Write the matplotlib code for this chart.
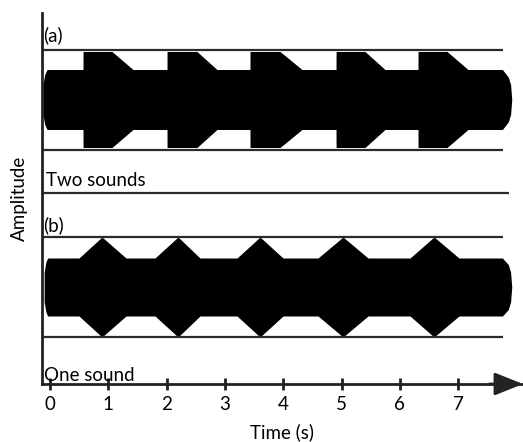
import matplotlib
matplotlib.use("Agg")
import matplotlib.pyplot as plt

plt.rcParams['font.family'] = ['Lato', 'DejaVu Sans']

# envelope break points: (time in s, relative amplitude)
# (a) two sounds: square bursts with a sloping tail on top of a steady tone
a_time = [-0.12, -0.09, -0.05,
          0.566, 0.567, 1.063, 1.424,
          2.007, 2.008, 2.521, 2.864,
          3.430, 3.431, 3.945, 4.322,
          4.906, 4.907, 5.403, 5.746,
          6.312, 6.313, 6.810, 7.170,
          7.760, 7.860, 7.900, 7.920]
a_amp = [0.30, 0.50, 0.60,
         0.60, 0.96, 0.96, 0.60,
         0.60, 0.96, 0.96, 0.60,
         0.60, 0.96, 0.96, 0.60,
         0.60, 0.96, 0.96, 0.60,
         0.60, 0.96, 0.96, 0.60,
         0.60, 0.45, 0.30, 0.00]

# (b) one sound: smooth diamond-shaped swells
b_time = [-0.10, -0.07, -0.04,
          0.497, 0.892, 1.304,
          1.801, 2.196, 2.573,
          3.208, 3.602, 3.997,
          4.597, 5.026, 5.455,
          6.175, 6.587, 7.015,
          7.760, 7.860, 7.900, 7.920]
b_amp = [0.30, 0.50, 0.58,
         0.58, 1.00, 0.58,
         0.58, 1.00, 0.58,
         0.58, 1.00, 0.58,
         0.58, 1.00, 0.58,
         0.58, 1.00, 0.58,
         0.58, 0.45, 0.30, 0.00]

ticks = [0, 1, 2, 3, 4, 5, 6, 7]
panel_labels = ['(a)', '(b)']
captions = ['Two sounds', 'One sound']

# layout (vertical units ~ pixels above the time axis)
a_mid, b_mid, half = 284.5, 97.0, 50.0
sep_y = 191.0
x_left, x_right = -0.137, 8.113
line_end = 7.77
FS = 13.5

fig = plt.figure(figsize=(5.23, 4.42), dpi=100)
ax = fig.add_axes([42 / 523, 58 / 442, 481 / 523, 371 / 442])
ax.set_xlim(x_left, x_right)
ax.set_ylim(0, 371)

for mid, t, amp in [(a_mid, a_time, a_amp), (b_mid, b_time, b_amp)]:
    upper = [mid + half * v for v in amp]
    lower = [mid - half * v for v in amp]
    ax.fill_between(t, lower, upper, color='black', lw=0)
    ax.hlines([mid - half, mid + half], x_left, line_end,
              color='#2b2b2b', lw=1.6)
ax.hlines(sep_y, x_left, 7.87, color='#2b2b2b', lw=1.6)

# texts
ax.text(-0.11, a_mid + half + 5, panel_labels[0], fontsize=FS, va='bottom')
ax.text(-0.11, b_mid + half + 3, panel_labels[1], fontsize=FS, va='bottom')
ax.text(-0.06, sep_y + 4, captions[0], fontsize=FS, va='bottom')
ax.text(-0.11, 0, captions[1], fontsize=FS, va='bottom')

# axes styling
for s in ['top', 'right']:
    ax.spines[s].set_visible(False)
for s in ['left', 'bottom']:
    ax.spines[s].set_linewidth(2)
    ax.spines[s].set_color('#222222')
ax.set_xticks(ticks)
ax.set_xticklabels([str(t) for t in ticks], fontsize=FS)
ax.tick_params(axis='x', direction='inout', length=8, width=2,
               color='#222222', pad=5)
ax.set_yticks([])
ax.set_xlabel('Time (s)', fontsize=FS, labelpad=7)
ax.set_ylabel('Amplitude', fontsize=FS, labelpad=10)

# arrow head at the end of the time axis
ax.annotate('', xy=(1.0, 0), xytext=(0.93, 0),
            xycoords='axes fraction', textcoords='axes fraction',
            arrowprops=dict(arrowstyle='-|>,head_length=1.75,head_width=0.7',
                            mutation_scale=10, color='#222222', lw=2,
                            shrinkA=0, shrinkB=0),
            annotation_clip=False)

fig.savefig('out.png', dpi=100)
